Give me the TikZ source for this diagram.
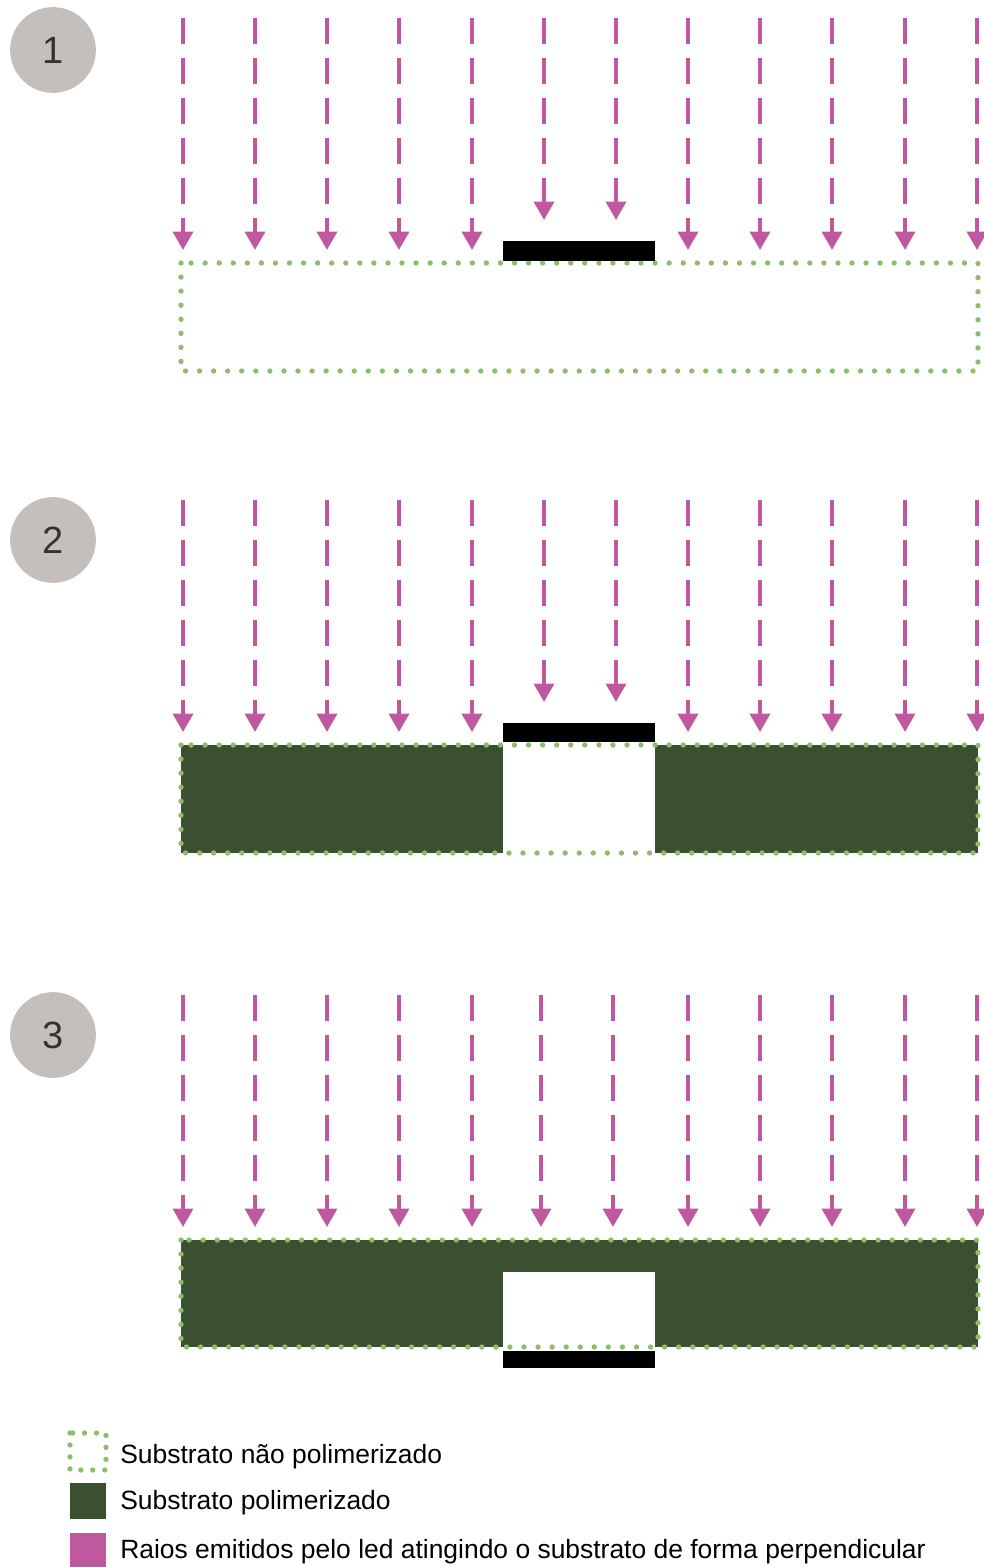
\documentclass[tikz,border=0pt]{standalone}
\usepackage{fontspec}
\setmainfont{Liberation Sans}
\usetikzlibrary{arrows.meta}
\definecolor{raiocor}{RGB}{192,88,160}
\definecolor{polimcor}{RGB}{58,80,46}
\definecolor{pontocor}{RGB}{140,188,108}
\definecolor{etapacor}{RGB}{196,191,186}

\begin{document}
\begin{tikzpicture}[x=0.025cm,y=-0.025cm,
  raio/.style={draw=raiocor,line width=2.8pt,dash pattern=on 18.5pt off 10pt,
    -{Triangle[width=14pt,length=13pt]}},
  borda/.style={draw=pontocor,line width=3.8pt,line cap=round,dash pattern=on 0pt off 10pt},
  mascara/.style={fill=black},
  etapa/.style={circle,fill=etapacor,minimum size=61pt,inner sep=0pt,
    text=black!80,font=\fontsize{27}{30}\selectfont},
  legenda/.style={anchor=base west,inner sep=0pt,font=\fontsize{18.8}{22}\selectfont}]
  \useasboundingbox (0,0) rectangle (984,1567);

  % etapas
  \node[etapa] (e1) at (53,50) {1};
  \node[etapa] (e2) at (53,540) {2};
  \node[etapa] (e3) at (53,1035) {3};

  % 1: substrato antes da exposicao
  \foreach \x in {183,255,327,399,472,688,760,832,905,977}
    \draw[raio] (\x,18) -- (\x,250);
  \foreach \x in {544,616} \draw[raio] (\x,18) -- (\x,220);
  \draw[borda] (181,263) rectangle (978,371);
  \fill[mascara] (503,241) rectangle (655,261);

  % 2: exposicao com mascara
  \foreach \x in {183,255,327,399,472,688,760,832,905,977}
    \draw[raio] (\x,500) -- (\x,732);
  \foreach \x in {544,616} \draw[raio] (\x,500) -- (\x,702);
  \fill[polimcor] (181,745) rectangle (503,853);
  \fill[polimcor] (655,745) rectangle (978,853);
  \draw[borda] (181,745) rectangle (978,853);
  \fill[mascara] (503,723) rectangle (655,742);

  % 3: mascara por baixo
  \foreach \x in {183,255,327,399,472,541,613,688,760,832,905,977}
    \draw[raio] (\x,995) -- (\x,1227);
  \fill[polimcor] (181,1240) rectangle (978,1347);
  \fill[white] (503,1272) rectangle (655,1347);
  \draw[borda] (181,1240) rectangle (978,1347);
  \fill[mascara] (503,1351) rectangle (655,1368);

  % legenda
  \draw[borda,dash pattern=on 0pt off 8.5pt] (70,1433) rectangle (106,1470);
  \node[legenda] (l1) at (120,1463) {Substrato não polimerizado};
  \fill[polimcor] (70,1483) rectangle (106,1519);
  \node[legenda] (l2) at (120,1509) {Substrato polimerizado};
  \fill[raiocor] (70,1533) rectangle (106,1567);
  \node[legenda] (l3) at (120,1558) {Raios emitidos pelo led atingindo o substrato de forma perpendicular};
\end{tikzpicture}
\end{document}
